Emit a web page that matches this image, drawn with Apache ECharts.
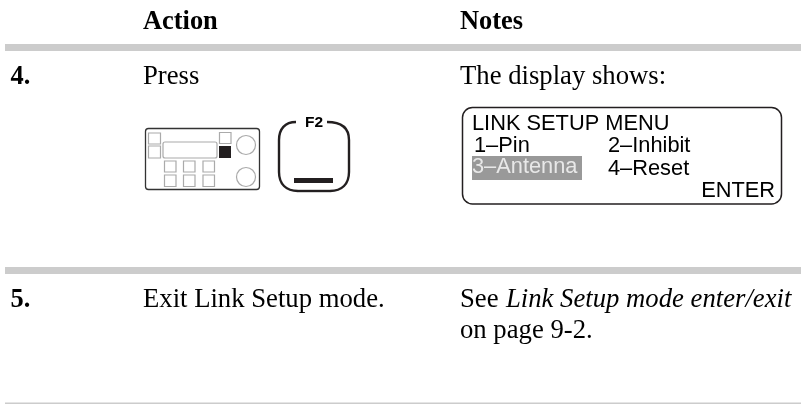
<!DOCTYPE html>
<html>
<head>
<meta charset="utf-8">
<style>
html,body{margin:0;padding:0;background:#fff}
#main{width:801px;height:404px}
</style>
<script src="https://cdn.jsdelivr.net/npm/echarts@6/dist/echarts.min.js"></script>
</head>
<body>
<div id="main"></div>
<script>
var headers = ['Action', 'Notes'];
var stepNumbers = ['4.', '5.'];
var stepActions = ['Press', 'Exit Link Setup mode.'];
var stepNote4 = 'The display shows:';
var stepNote5 = ['See ', 'Link Setup mode enter/exit', 'on page 9-2.'];
var keyLabel = 'F2';
var menuTitle = 'LINK SETUP MENU';
var menuItems = ['1–Pin', '2–Inhibit', '3–Antenna', '4–Reset'];
var menuEnter = 'ENTER';

var SERIF = '"Liberation Serif"';
var SANS = '"Liberation Sans"';
var BODY = 26.7, HEAD = 26.4, MENU = 21.8;
var els = [];

// text placed by its baseline
function txt(s, x, base, size, opt) {
    opt = opt || {};
    els.push({
        type: 'text',
        z: opt.z || 5,
        style: {
            text: s,
            x: x,
            y: base - size * 0.3,
            fill: opt.fill || '#000',
            align: opt.align || 'left',
            verticalAlign: 'middle',
            font: (opt.style || '') + ' ' + size + 'px ' + (opt.family || SERIF)
        }
    });
}
function rect(x, y, w, h, fill, stroke, lw, r) {
    els.push({
        type: 'rect',
        shape: {x: x, y: y, width: w, height: h, r: r || 0},
        style: {fill: fill || 'none', stroke: stroke || 'none', lineWidth: lw || 0}
    });
}
function seg(x1, y1, x2, y2) {
    els.push({
        type: 'line',
        shape: {x1: x1, y1: y1, x2: x2, y2: y2},
        style: {stroke: '#231f20', lineWidth: 2.4}
    });
}
function curve(x1, y1, cx1, cy1, cx2, cy2, x2, y2) {
    els.push({
        type: 'bezierCurve',
        shape: {x1: x1, y1: y1, cpx1: cx1, cpy1: cy1, cpx2: cx2, cpy2: cy2, x2: x2, y2: y2},
        style: {fill: 'none', stroke: '#231f20', lineWidth: 2.4}
    });
}

// rules of the table
rect(5, 44, 796, 7, '#cccccc');
rect(5, 267, 796, 7, '#cccccc');
rect(5, 402.5, 796, 1.5, '#cccccc');

// headers and steps
txt(headers[0], 143, 30, HEAD, {style: 'bold'});
txt(headers[1], 460, 30, HEAD, {style: 'bold'});
txt(stepNumbers[0], 10.5, 85, HEAD, {style: 'bold'});
txt(stepActions[0], 143, 85, BODY);
txt(stepNote4, 460, 85, BODY);
txt(stepNumbers[1], 10.5, 308, HEAD, {style: 'bold'});
txt(stepActions[1], 143, 308, BODY);
txt(stepNote5[0], 460, 308, BODY);
txt(stepNote5[1], 506, 308, BODY, {style: 'italic'});
txt(stepNote5[2], 460, 339, BODY);

// radio front panel
var gray = '#aaaaaa';
rect(145.5, 128.5, 114, 61, '#fff', '#333', 1.3, 3);
rect(148.5, 133, 12, 11, '#fff', gray, 1.2);
rect(148.5, 146, 12, 12, '#fff', gray, 1.2);
rect(163, 142, 54, 16, '#fff', gray, 1.2, 2);
rect(219.5, 132.5, 11.5, 11, '#fff', gray, 1.2);
rect(219, 146, 12, 12, '#231f20');
[164.5, 183.5, 203].forEach(function (x) {
    rect(x, 161, 11.5, 11, '#fff', gray, 1.2);
    rect(x, 175, 11.5, 11.5, '#fff', gray, 1.2);
});
[145, 177].forEach(function (y) {
    els.push({
        type: 'circle',
        shape: {cx: 246, cy: y, r: 9.5},
        style: {fill: '#fff', stroke: gray, lineWidth: 1.2}
    });
});

// F2 soft key
curve(296, 122, 285, 122, 279, 129, 279, 140);
seg(279, 140, 279, 172);
curve(279, 172, 279, 184, 286, 191, 298, 191);
seg(298, 191, 330, 191);
curve(330, 191, 342, 191, 349, 184, 349, 172);
seg(349, 172, 349, 140);
curve(349, 140, 349, 129, 343, 122, 327, 122);
txt(keyLabel, 314, 127, 15.5, {style: 'bold', family: SANS, align: 'center'});
rect(294, 178, 39, 5, '#231f20');

// display
rect(462.5, 107.5, 319, 96.5, '#fff', '#231f20', 1.5, 10);
rect(472, 156, 110, 24, '#999999');
txt(menuTitle, 472, 131, MENU, {family: SANS});
txt(menuItems[0], 474, 153, MENU, {family: SANS});
txt(menuItems[1], 608, 153, MENU, {family: SANS});
txt(menuItems[2], 472, 174, MENU, {family: SANS, fill: '#e8e8e8'});
txt(menuItems[3], 608, 176, MENU, {family: SANS});
txt(menuEnter, 775, 198, MENU, {family: SANS, align: 'right'});

var myChart = echarts.init(document.getElementById('main'), null, {renderer: 'canvas'});
myChart.setOption({
    animation: false,
    backgroundColor: '#fff',
    graphic: {elements: els}
});
</script>
</body>
</html>
